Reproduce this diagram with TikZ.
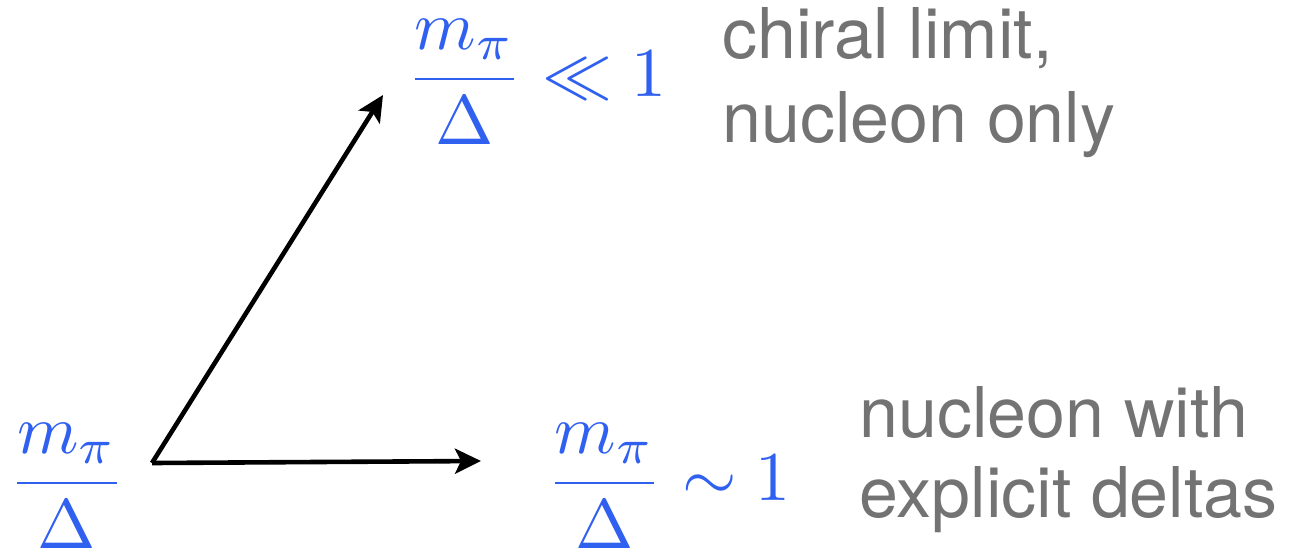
\documentclass[tikz,border=0pt]{standalone}
\usepackage{fontspec}
\newfontfamily\labelfont{TeX Gyre Heros}
\usetikzlibrary{arrows.meta}
\definecolor{mathblue}{RGB}{48,96,240}
\definecolor{textgray}{RGB}{115,115,115}
\tikzset{
  mathlbl/.style={inner sep=0pt, scale=7.0, text=mathblue},
  txtlbl/.style={inner sep=0pt, scale=7.0, text=textgray, font=\labelfont, anchor=base west},
  flow/.style={line width=4.6pt, -{Stealth[length=26pt, width=25pt, inset=6pt]}}
}
\begin{document}
\begin{tikzpicture}[x=1pt,y=-1pt]
\useasboundingbox (0,0) rectangle (1305,550);
\node[mathlbl, anchor=base] (start) at (67,500.5) {$\displaystyle\frac{m_\pi}{\Delta}$};
\node[mathlbl, anchor=base west] (chiral) at (405,96.5) {$\displaystyle\frac{m_\pi}{\Delta}\ll 1$};
\node[mathlbl, anchor=base west] (delta) at (545,500.5) {$\displaystyle\frac{m_\pi}{\Delta}\sim 1$};
\node[txtlbl] (t1) at (721,58) {chiral limit,};
\node[txtlbl] (t2) at (721,142) {nucleon only};
\node[txtlbl] (t3) at (858,437) {nucleon with};
\node[txtlbl] (t4) at (858,517) {explicit deltas};
\coordinate (o) at (152,463);
\coordinate (up) at (383,95);
\coordinate (right) at (481,461);
\draw[flow] (o) -- (up);
\draw[flow] (o) -- (right);
\end{tikzpicture}
\end{document}
